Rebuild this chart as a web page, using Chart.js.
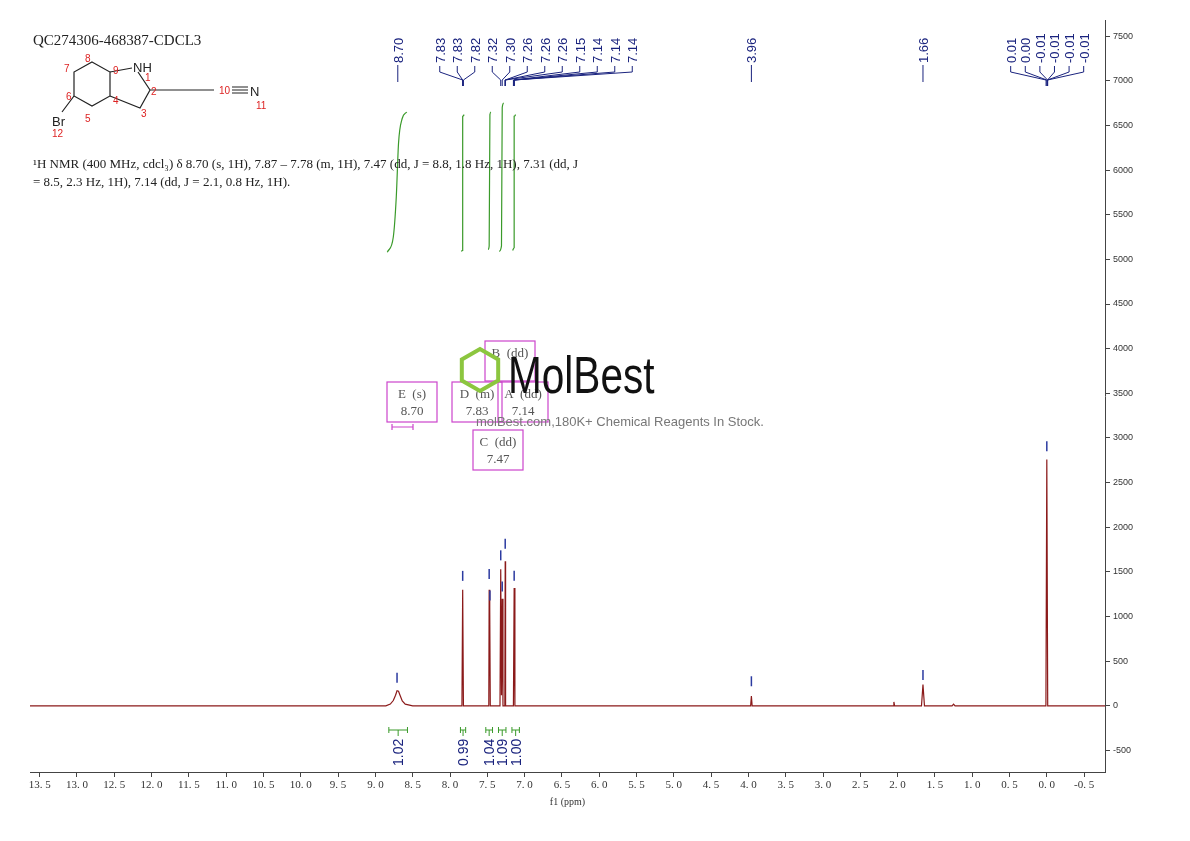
<!DOCTYPE html>
<html><head><meta charset="utf-8">
<script src="https://cdn.jsdelivr.net/npm/chart.js@4"></script>
<style>html,body{margin:0;background:#fff}#c{display:block}</style>
</head><body>
<canvas id="c" width="1190" height="841"></canvas>
<script>
// spectrum: [ppm, intensity]
const spectrum = [[13.63,0],[8.86,0],[8.80,20],[8.76,60],[8.73,120],[8.71,170],[8.69,165],[8.67,120],[8.64,55],[8.60,20],[8.50,0],
  [7.84,0],[7.83,1300],[7.82,0],[7.48,0],[7.475,1300],[7.47,500],[7.465,1100],[7.46,0],
  [7.33,0],[7.32,1530],[7.31,120],[7.30,1200],[7.29,0],[7.265,0],[7.26,1620],[7.255,0],
  [7.15,0],[7.14,1320],[7.13,0],[3.97,0],[3.96,110],[3.95,0],[2.06,0],[2.05,45],[2.04,0],
  [1.68,0],[1.66,240],[1.64,0],[1.27,0],[1.25,20],[1.23,0],[0.012,0],[0.0,2760],[-0.012,0],[-0.78,0]];
const peakTops = [[8.71,260],[7.83,1400],[7.475,1420],[7.465,1180],[7.32,1630],[7.30,1280],[7.26,1760],[7.14,1400],[3.96,220],[1.66,290],[0.0,2850]];
const peakLabels = ["8.70","7.83","7.83","7.82","7.32","7.30","7.26","7.26","7.26","7.15","7.14","7.14","7.14","3.96","1.66","0.01","0.00","-0.01","-0.01","-0.01","-0.01"];
const labelPpm = [8.70,7.83,7.83,7.82,7.32,7.30,7.26,7.26,7.26,7.15,7.14,7.14,7.14,3.96,1.66,0.01,0.00,-0.01,-0.01,-0.01,-0.01];
const integralCurves = [
  [[8.84,5080],[8.76,5250],[8.72,5700],[8.69,6300],[8.64,6580],[8.58,6650]],
  [[7.85,5090],[7.83,5100],[7.83,6600],[7.81,6620]],
  [[7.49,5110],[7.475,5150],[7.465,6620],[7.45,6650]],
  [[7.34,5090],[7.31,5150],[7.30,6700],[7.28,6750]],
  [[7.16,5100],[7.14,5130],[7.14,6600],[7.12,6620]]];
const integralRanges = [[8.82,8.57],[7.86,7.79],[7.52,7.43],[7.35,7.25],[7.17,7.07]];
const integralValues = ["1.02","0.99","1.04","1.09","1.00"];
const xMin = -0.78, xMax = 13.63, yMin = -740, yMax = 7680;

const datasets = [{data: spectrum.map(p => ({x: p[0], y: p[1]})), borderColor: '#8b1a1a', borderWidth: 1.2, pointRadius: 0, tension: 0}];
integralCurves.forEach(c => datasets.push({data: c.map(p => ({x: p[0], y: p[1]})), borderColor: '#3a9a2a', borderWidth: 1.2, pointRadius: 0, tension: 0.4, cubicInterpolationMode: 'monotone'}));

const serif = '"Liberation Serif", "DejaVu Serif", serif';
const sans = '"Liberation Sans", Arial, sans-serif';

const extras = {
  id: 'extras',
  afterDatasetsDraw(chart) {
    const ctx = chart.ctx, xs = chart.scales.x, ys = chart.scales.y;
    ctx.save();
    // blue peak marks
    ctx.strokeStyle = '#2b3aa0'; ctx.lineWidth = 1.5;
    peakTops.forEach(p => { const x = xs.getPixelForValue(p[0]), y = ys.getPixelForValue(p[1]); ctx.beginPath(); ctx.moveTo(x, y); ctx.lineTo(x, y - 10); ctx.stroke(); });
    // peak labels at top
    const groups = [[0,1],[1,13],[13,14],[14,15],[15,21]];
    ctx.fillStyle = '#1a237e'; ctx.strokeStyle = '#1a237e'; ctx.lineWidth = 1;
    ctx.font = '13px ' + sans;
    groups.forEach(g => {
      const n = g[1] - g[0];
      let c = 0; for (let i = g[0]; i < g[1]; i++) c += xs.getPixelForValue(labelPpm[i]); c /= n;
      let sp = 14.6;
      if (g[0] === 1) { c = 536; sp = 17.5; }
      for (let i = g[0]; i < g[1]; i++) {
        const lx = c + (i - g[0] - (n - 1) / 2) * sp, px = xs.getPixelForValue(labelPpm[i]);
        ctx.beginPath();
        if (n === 1) { ctx.moveTo(lx, 65); ctx.lineTo(lx, 82); ctx.stroke(); }
        else { ctx.moveTo(lx, 66); ctx.lineTo(lx, 72); ctx.lineTo(px, 80); ctx.lineTo(px, 86); ctx.stroke(); }
        ctx.save(); ctx.translate(lx + 5, 63); ctx.rotate(-Math.PI / 2);
        ctx.fillText(peakLabels[i], 0, 0); ctx.restore();
      }
    });
    // integration brackets
    ctx.strokeStyle = '#3a9a2a';
    integralRanges.forEach((r, i) => {
      const a = xs.getPixelForValue(r[0]), b = xs.getPixelForValue(r[1]), y = 730;
      ctx.beginPath(); ctx.moveTo(a, y); ctx.lineTo(b, y); ctx.moveTo(a, y - 3); ctx.lineTo(a, y + 3); ctx.moveTo(b, y - 3); ctx.lineTo(b, y + 3);
      ctx.moveTo((a + b) / 2, y); ctx.lineTo((a + b) / 2, y + 6); ctx.stroke();
      ctx.save(); ctx.fillStyle = '#1a237e'; ctx.font = '14px ' + sans;
      ctx.translate((a + b) / 2 + 5, 766); ctx.rotate(-Math.PI / 2); ctx.fillText(integralValues[i], 0, 0); ctx.restore();
    });
    // title and description
    ctx.fillStyle = '#222'; ctx.font = '15px ' + serif; ctx.fillText('QC274306-468387-CDCL3', 33, 45);
    ctx.font = '13px ' + serif;
    ctx.fillText('¹H NMR (400 MHz, cdcl₃) δ 8.70 (s, 1H), 7.87 – 7.78 (m, 1H), 7.47 (dd, J = 8.8, 1.8 Hz, 1H), 7.31 (dd, J', 33, 168);
    ctx.fillText('= 8.5, 2.3 Hz, 1H), 7.14 (dd, J = 2.1, 0.8 Hz, 1H).', 33, 186);
    // structure (rough)
    ctx.strokeStyle = '#222'; ctx.lineWidth = 1.2;
    const P = [[92,62],[110,72],[110,96],[92,106],[74,96],[74,72]];
    ctx.beginPath(); P.forEach((p, i) => i ? ctx.lineTo(p[0], p[1]) : ctx.moveTo(p[0], p[1])); ctx.closePath(); ctx.stroke();
    ctx.beginPath(); ctx.moveTo(110,72); ctx.lineTo(132,68); ctx.moveTo(110,96); ctx.lineTo(140,108); ctx.lineTo(150,90); ctx.lineTo(138,72);
    ctx.moveTo(150,90); ctx.lineTo(214,90); ctx.moveTo(74,96); ctx.lineTo(62,112); ctx.stroke();
    ctx.beginPath(); ctx.moveTo(232,87); ctx.lineTo(248,87); ctx.moveTo(232,90); ctx.lineTo(248,90); ctx.moveTo(232,93); ctx.lineTo(248,93); ctx.stroke();
    ctx.font = '13px ' + sans; ctx.fillText('NH', 133, 72); ctx.fillText('N', 250, 96); ctx.fillText('Br', 52, 126);
    ctx.fillStyle = '#d22'; ctx.font = '10px ' + sans;
    [['8',85,62],['9',113,74],['1',145,81],['2',151,95],['3',141,117],['4',113,104],['5',85,122],['6',66,100],['7',64,72],['10',219,94],['11',256,109],['12',52,137]].forEach(t => ctx.fillText(t[0], t[1], t[2]));
    // multiplet boxes
    ctx.strokeStyle = '#cc44cc'; ctx.fillStyle = '#555'; ctx.font = '13px ' + serif; ctx.textAlign = 'center';
    [['E  (s)','8.70',387,382],['D  (m)','7.83',452,382],['A  (dd)','7.14',498,382],['B  (dd)','',485,341],['C  (dd)','7.47',473,430]].forEach(b => {
      ctx.strokeRect(b[2], b[3], 50, 40); ctx.fillText(b[0], b[2] + 25, b[3] + 16); if (b[1]) ctx.fillText(b[1], b[2] + 25, b[3] + 33);
    });
    ctx.beginPath(); ctx.moveTo(392,427); ctx.lineTo(413,427); ctx.moveTo(392,424); ctx.lineTo(392,430); ctx.moveTo(413,424); ctx.lineTo(413,430); ctx.stroke();
    // watermark
    ctx.textAlign = 'left';
    ctx.strokeStyle = '#8cc63f'; ctx.lineWidth = 4; ctx.beginPath();
    for (let i = 0; i < 6; i++) { const a = Math.PI / 3 * i + Math.PI / 6; ctx[i ? 'lineTo' : 'moveTo'](480 + 21 * Math.cos(a), 370 + 21 * Math.sin(a)); }
    ctx.closePath(); ctx.stroke();
    ctx.save(); ctx.translate(508, 393); ctx.scale(0.78, 1);
    ctx.fillStyle = '#111'; ctx.font = '52px ' + sans; ctx.fillText('MolBest', 0, 0); ctx.restore();
    ctx.fillStyle = '#777'; ctx.font = '13px ' + sans; ctx.fillText('molBest.com,180K+ Chemical Reagents In Stock.', 476, 426);
    ctx.restore();
  }
};

new Chart(document.getElementById('c'), {
  type: 'line',
  data: {datasets},
  plugins: [extras],
  options: {
    responsive: false, animation: false,
    layout: {padding: {top: 20, left: 30, bottom: 33}},
    plugins: {legend: {display: false}, tooltip: {enabled: false}},
    scales: {
      x: {type: 'linear', reverse: true, min: xMin, max: xMax,
        afterBuildTicks: s => { s.ticks = []; for (let v = -0.5; v <= 13.5; v += 0.5) s.ticks.push({value: Math.round(v * 10) / 10}); },
        afterFit: s => { s.height = 36; },
        ticks: {color: '#333', font: {family: serif, size: 11}, maxRotation: 0, padding: 2, callback: v => v.toFixed(1).replace('.', '. ')},
        grid: {drawOnChartArea: false, tickLength: 5, color: '#444'}, border: {color: '#444'},
        title: {display: true, text: 'f1 (ppm)', font: {family: serif, size: 10}, color: '#333', padding: 0}},
      y: {position: 'right', min: yMin, max: yMax,
        afterBuildTicks: s => { s.ticks = []; for (let v = -500; v <= 7500; v += 500) s.ticks.push({value: v}); },
        afterFit: s => { s.width = 85; },
        ticks: {color: '#333', font: {family: sans, size: 9}, padding: 3, callback: v => String(v)},
        grid: {drawOnChartArea: false, tickLength: 5, color: '#444'}, border: {color: '#444'}}
    }
  }
});
</script>
</body></html>
